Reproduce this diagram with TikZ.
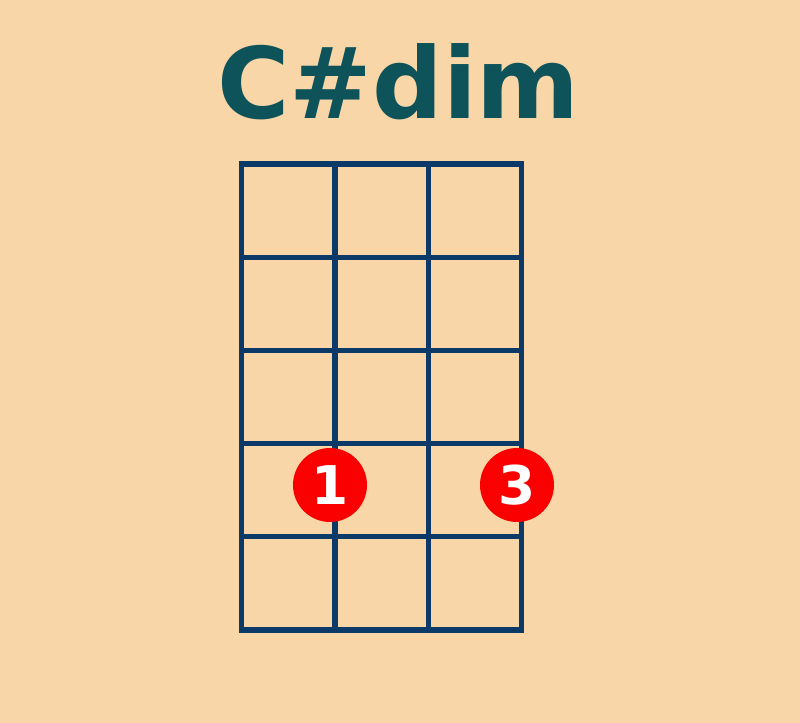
\documentclass[tikz,border=0pt]{standalone}
\usepackage{fontspec}
\setmainfont{DejaVu Sans}
\usetikzlibrary{positioning}
\definecolor{bgPeach}{RGB}{248,214,167}
\definecolor{inkTeal}{RGB}{14,83,90}
\definecolor{fretBlue}{RGB}{12,58,104}
\definecolor{dotRed}{RGB}{250,0,0}

\begin{document}
\begin{tikzpicture}[x=0.75pt,y=-0.75pt,
  fret/.style={fretBlue,line width=3.8pt,line cap=rect},
  finger/.style={circle,fill=dotRed,minimum size=55.5pt,inner sep=0pt,
                 text=white,font=\fontsize{40}{40}\selectfont\bfseries}]
  \fill[bgPeach] (0,0) rectangle (800,723);
  \node[text=inkTeal,font=\fontsize{74}{78}\selectfont\bfseries,anchor=base] (title) at (398.5,119) {C\#dim};
  % strings and frets of the chord box
  \foreach \s in {0,...,3}
    \draw[fret] (241.7+93.3*\s,164) -- (241.7+93.3*\s,630);
  \foreach \f in {0,...,5}
    \draw[fret] (241.7,164+93.2*\f) -- (521.6,164+93.2*\f);
  \node[finger] (f1) at (330,485) {1};
  \node[finger] (f3) at (517,485) {3};
\end{tikzpicture}
\end{document}
